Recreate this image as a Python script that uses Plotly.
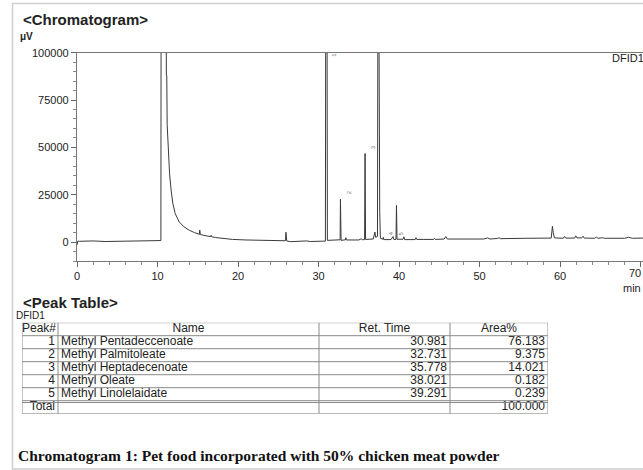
import plotly.graph_objects as go

# ---- Chromatogram signal (retention time in min, detector response in uV) ----
rt_min = [
    0.0, 0.1, 0.3, 2.0, 3.5, 10.3, 10.42, 10.45, 11.05, 11.1, 11.15, 11.2, 11.3,
    11.5, 11.7, 11.9, 12.2, 12.7, 13.3, 13.95, 14.6, 15.2, 15.25, 15.32, 16.0,
    16.6, 16.65, 16.72, 17.2, 18.0, 19.3, 21.0, 23.3, 25.9, 25.95, 26.0, 26.05,
    26.5, 27.5, 28.0, 28.5, 29.0, 30.5, 30.85, 30.9, 31.05, 31.1, 32.5, 32.68,
    32.72, 32.76, 32.8, 33.35, 33.4, 33.45, 35.0, 35.3, 35.5, 35.72, 35.78,
    35.84, 36.8, 37.0, 37.1, 37.32, 37.38, 37.48, 37.52, 37.6, 37.68, 38.0,
    38.05, 38.1, 39.0, 39.25, 39.35, 39.62, 39.68, 39.75, 40.5, 40.6, 40.7,
    42.0, 42.1, 42.2, 43.0, 44.3, 44.4, 44.5, 45.6, 45.8, 46.0, 47.5, 49.0,
    50.5, 51.0, 51.3, 52.2, 52.4, 52.6, 53.5, 56.0, 58.9, 59.05, 59.15, 59.3,
    60.4, 60.55, 60.7, 61.8, 61.95, 62.1, 62.7, 62.85, 63.0, 64.3, 64.5, 64.7,
    65.3, 65.5, 68.0, 68.5, 69.0, 70.3,
]
signal_uv = [
    -1500, 500, 400, 600, 300, 500, 800, 140000, 140000, 88000, 88000, 62000, 50000,
    36000, 27000, 20500, 15000, 10600, 8000, 6200, 5000, 4100, 6300, 4000, 3300,
    2900, 3600, 2800, 2400, 1900, 1400, 1100, 900, 700, 5200, 3400, 600,
    200, 300, 700, 600, 300, 400, 500, 140000, 140000, 900, 900, 1200,
    22600, 1200, 900, 1200, 2300, 1100, 1100, 1700, 1200, 1300, 46800,
    1400, 1600, 5300, 2500, 3000, 140000, 140000, 16000, 16000, 2000, 1500,
    2500, 1300, 1300, 2900, 1400, 1400, 19400, 1500, 1500, 2800, 1300,
    1300, 2300, 1400, 1400, 1400, 2000, 1400, 1600, 2900, 1600, 1500, 1700,
    1600, 2200, 1600, 1900, 2300, 1800, 1900, 2000, 2100, 8300, 5000, 2200,
    2000, 3000, 2100, 2100, 3300, 2200, 2200, 3100, 2100, 2000, 2600, 2000,
    2300, 2000, 2000, 2500, 2000, 2100,
]
x_ticks = [0, 10, 20, 30, 40, 50, 60, 70]
y_ticks = [0, 25000, 50000, 75000, 100000]

# ---- Peak table ----
peak_no = ["1", "2", "3", "4", "5"]
peak_names = [
    "Methyl Pentadeccenoate",
    "Methyl Palmitoleate",
    "Methyl Heptadecenoate",
    "Methyl Oleate",
    "Methyl Linolelaidate",
]
ret_time = [30.981, 32.731, 35.778, 38.021, 39.291]
area_pct = [76.183, 9.375, 14.021, 0.182, 0.239]
table_header = ["Peak#", "Name", "Ret. Time", "Area%"]
# height at which each peak number is written beside its peak
peak_label_level = [97000, 24000, 48000, 2600, 2600]

W, H = 643, 470
# table column edges along the table's own x axis
col_edges = [0, 36, 297, 428, 526]


def px(x):
    return x / W


def py(y):
    return 1 - y / H


fig = go.Figure()

fig.add_trace(go.Scatter(
    x=rt_min, y=signal_uv, mode="lines",
    line=dict(color="#3a3a3a", width=1),
    hoverinfo="skip", showlegend=False,
))

# ---- peak table drawn on its own pair of axes: x = column units, y = row index ----
total_area = sum(area_pct)
columns = [
    peak_no + ["Total"],
    peak_names + [""],
    [f"{v:.3f}" for v in ret_time] + [""],
    [f"{v:.3f}" for v in area_pct] + [f"{total_area:.3f}"],
]
aligns = ["right", "left", "right", "right"]
n_rows = len(peak_no) + 2
cell_font = dict(family="Liberation Sans, Arial", size=12, color="#222")

for i, (head, vals, al) in enumerate(zip(table_header, columns, aligns)):
    left, right = col_edges[i], col_edges[i + 1]
    if i == 0:
        hx, hpos = right - 2, "middle left"
    else:
        hx, hpos = (left + right) / 2, "middle center"
    fig.add_trace(go.Scatter(
        x=[hx], y=[0.5], mode="text", text=[head],
        textposition=hpos, textfont=cell_font,
        xaxis="x2", yaxis="y2", hoverinfo="skip", showlegend=False,
    ))
    if al == "right":
        xs, pos = [right - 3] * len(vals), "middle left"
    else:
        xs, pos = [left + 3] * len(vals), "middle right"
    fig.add_trace(go.Scatter(
        x=xs, y=[r + 1.5 for r in range(len(vals))], mode="text", text=vals,
        textposition=pos, textfont=cell_font,
        xaxis="x2", yaxis="y2", hoverinfo="skip", showlegend=False,
    ))

grid = dict(color="#8a8a8a", width=1)
for r in range(n_rows + 1):
    fig.add_shape(type="line", xref="x2", yref="y2", x0=col_edges[0], x1=col_edges[-1],
                  y0=r, y1=r, line=grid)
# double rule above the total row
fig.add_shape(type="line", xref="x2", yref="y2", x0=col_edges[0], x1=col_edges[-1],
              y0=n_rows - 1 + 0.14, y1=n_rows - 1 + 0.14, line=grid)
for e in col_edges:
    fig.add_shape(type="line", xref="x2", yref="y2", x0=e, x1=e, y0=0, y1=n_rows, line=grid)

tick_font = dict(family="Liberation Sans, Arial", size=11, color="#222")

fig.update_layout(
    width=W, height=H,
    margin=dict(l=0, r=0, t=0, b=0),
    paper_bgcolor="white", plot_bgcolor="white",
    showlegend=False,
    xaxis=dict(
        domain=[px(77), 1], range=[0, 70.3],
        tickvals=x_ticks,
        # the last label sits at the right edge and is placed separately below
        ticktext=[str(t) for t in x_ticks[:-1]] + [""],
        ticks="outside", ticklen=5, tickcolor="#666", tickwidth=1,
        minor=dict(dtick=2, ticks="outside", ticklen=3, tickcolor="#888"),
        showline=True, linecolor="#777", linewidth=1.2, mirror=True,
        showgrid=False, zeroline=False, tickfont=tick_font,
        automargin=False,
    ),
    yaxis=dict(
        domain=[py(261), py(52.7)], range=[-10000, 100000],
        tickvals=y_ticks, tickformat="d",
        ticks="outside", ticklen=5, tickcolor="#666", tickwidth=1,
        minor=dict(dtick=5000, ticks="outside", ticklen=3, tickcolor="#888"),
        showline=True, linecolor="#777", linewidth=1.2,
        showgrid=False, zeroline=False, tickfont=tick_font,
        automargin=False,
    ),
    xaxis2=dict(domain=[px(22), px(548)], range=[col_edges[0], col_edges[-1]],
                visible=False, fixedrange=True, anchor="y2"),
    yaxis2=dict(domain=[py(413.7), py(322.7)], range=[n_rows, 0],
                visible=False, fixedrange=True, anchor="x2"),
)

# last x tick label, kept inside the page at the axis end
fig.add_annotation(x=x_ticks[-1], y=0, xref="x", yref="y domain", yshift=-4,
                   text=str(x_ticks[-1]), xanchor="right", yanchor="top", xshift=2,
                   showarrow=False, font=tick_font)

bold = dict(family="Liberation Sans, Arial", color="#222")
annotations = [
    dict(text="<b>&lt;Chromatogram&gt;</b>", x=px(21), y=py(20), font=dict(size=15, **bold)),
    dict(text="<b>μV</b>", x=px(18), y=py(36), font=dict(size=10, **bold)),
    dict(text="<b>&lt;Peak Table&gt;</b>", x=px(21), y=py(302), font=dict(size=15, **bold)),
    dict(text="DFID1", x=px(14), y=py(315), font=dict(size=10, **bold)),
    dict(text="DFID1", x=px(610), y=py(58), font=dict(size=11, **bold)),
    dict(text="min", x=px(621), y=py(288), font=dict(size=11, **bold)),
    dict(text="<b>Chromatogram 1: Pet food incorporated with 50% chicken meat powder</b>",
         x=px(16), y=py(455),
         font=dict(family="Liberation Serif, Times New Roman", size=15.5, color="#111")),
]
for a in annotations:
    fig.add_annotation(xref="paper", yref="paper", xanchor="left", yanchor="middle",
                       showarrow=False, **a)

# peak numbers written vertically beside their peaks
for n, t, lvl in zip(peak_no, ret_time, peak_label_level):
    fig.add_annotation(x=t, y=lvl, xref="x", yref="y", text=n, showarrow=False,
                       textangle=-90, xshift=8, yanchor="bottom",
                       font=dict(family="Liberation Sans, Arial", size=6, color="#777"))

# page frame
fig.add_shape(type="rect", xref="paper", yref="paper",
              x0=px(12.5), x1=px(700), y0=py(469), y1=py(3.5),
              line=dict(color="#cfcfcf", width=1.5), layer="below")

fig.write_html("out.html", config={"displayModeBar": False})
